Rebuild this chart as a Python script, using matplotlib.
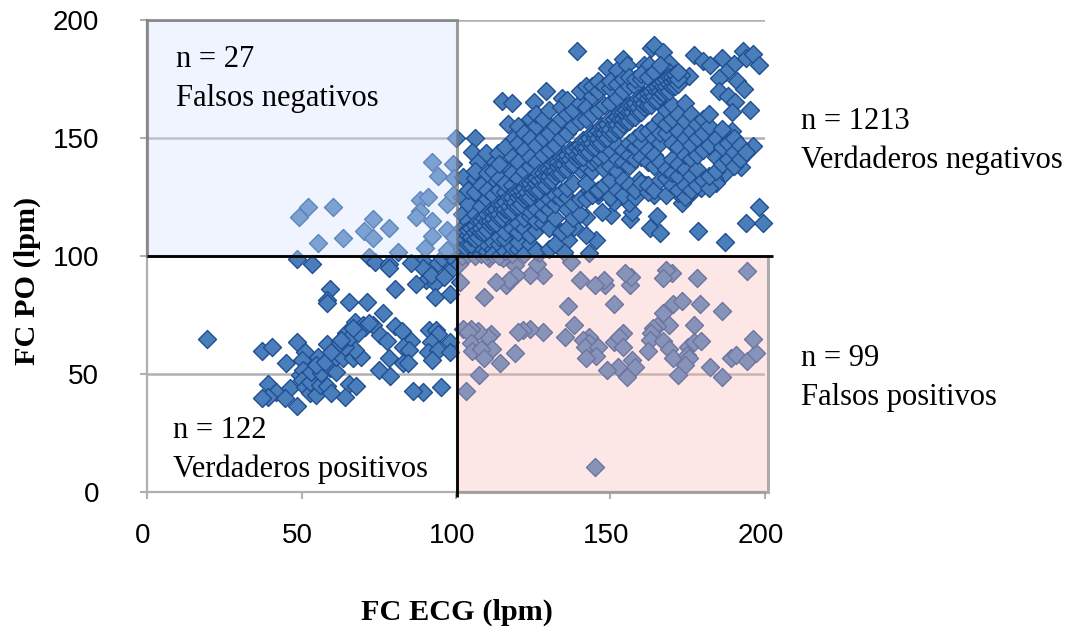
import matplotlib
matplotlib.use("Agg")
import matplotlib.pyplot as plt
from matplotlib.patches import Rectangle
from matplotlib.transforms import ScaledTranslation

x_ticks = [0, 50, 100, 150, 200]
y_ticks = [0, 50, 100, 150, 200]
x_title = "FC ECG (lpm)"
y_title = "FC PO (lpm)"

false_positive = [
(194.1,93.7),(178,90.8),(170,92.9),(168,94),(167,90.6),(156.2,87.7),(156.6,91.2),(154.8,92.6),(148.2,87.8),(148,89.8),
(145,87.8),(140.1,89.8),(137.1,97.3),(128.2,91.8),(124,91.8),(126.2,96.6),(119.1,96.1),(119.3,92),(116.2,87.8),(117.1,90),
(113,88.8),(109.2,82.7),(101.3,88.8),(101.1,96.6),(115.1,99),(110.8,99),(136.1,78.8),(151.1,79.8),(170.1,79.8),(173.2,80.9),
(179.1,79.6),(186.1,76.7),(167,75.7),(169,70.7),(177.1,70.7),(165.2,70.3),(163.8,69.3),(163.1,67.2),(162.8,64.4),(167,64),
(162.1,59.6),(169,60.4),(170.1,56.6),(175.1,61.5),(177.1,63.7),(179.4,64),(174.9,58),(175.4,56.6),(174.2,53.8),(172,49.5),
(182.1,52.8),(186.1,48.8),(189,56.6),(190.5,58),(194.1,55.6),(197.1,58.7),(196,64.8),(154.1,67.2),(151,63.7),(152.8,65.5),
(154.1,61.5),(138.2,70.7),(135.2,65.6),(143.1,65.8),(141,64.4),(143.1,63.2),(141.8,61.5),(146.1,61.3),(145.3,57.6),(142.1,56.6),
(157.1,55.9),(158,53.1),(152.3,53.1),(149,51.7),(155.2,48.8),(128.2,67.6),(124,69),(121.8,68.6),(120.2,67.6),(111.4,66.9),
(110.3,65.8),(107.1,68.2),(104.9,69),(102.2,69),(103.8,67.9),(111.7,60.8),(104.9,63),(105.2,59.7),(108.1,60.4),(109.2,56.9),
(114.3,54.8),(119.1,58.7),(107.3,49.7),(103.3,42.8),(145.1,10.6),
]

false_negative = [
(92.3,139.8),(99,139),(94.1,133.9),(88.2,123.7),(91.1,124.9),(88.2,119.1),(87.1,116.4),(97,121.9),(99,125.9),(92.3,115),
(97,111),(92.3,108.5),(90.1,103.3),(97,102.6),(99.5,108.2),(99.5,132.9),(52.1,120.6),(49.2,116.7),(60.2,120.6),(55.2,105.7),
(63.3,107.8),(73.2,115.8),(70.1,110.7),(73.2,107.8),(78.3,111.7),(81.2,101.9),(100,149.9),
]

true_positive = [
(48.4,98.7),(53.3,96.5),(72,99.7),(73.7,97.6),(78.3,96.5),(78.3,94.8),(89.3,98),(89.3,94.8),(94.1,96.9),(97,97.6),
(98.4,94),(90.4,89.8),(86.9,88.1),(93.3,88.7),(80.2,85.9),(93.1,82.5),(98.1,83.8),(59.3,85.9),(58.4,81.4),(58.4,80.2),
(65.3,80.7),(71.3,80.7),(76.3,75.7),(19.4,64.7),(37.3,59.6),(40.3,61.6),(45.1,54.8),(48.4,63.7),(51.1,59.5),(50,55.9),
(55.4,57.4),(58.1,62.7),(62.4,64.1),(64.5,67.2),(67.2,71.9),(69.9,70.8),(73.1,70.8),(75.3,66.5),(77.7,64.1),(80.1,70.5),
(82.6,68.2),(85.5,64),(82.8,61.6),(84.8,60.2),(78.3,56.6),(75.1,51.7),(78.5,49.3),(82.8,54.5),(84.4,54.5),(91.2,68.6),
(93.4,68.6),(94.1,67),(92,63.7),(98.1,63.7),(90.9,59.5),(94.1,60.2),(98.1,59.5),(92.3,55.9),(95.2,44.6),(89.3,42.5),
(86.1,42.8),(39.2,45.6),(41.9,42.5),(46.2,43.9),(39.2,40.4),(37.1,39.7),(44.6,39.7),(48.4,36.6),(65.4,45.8),(67.5,45.1),
(64.2,40.4),(49.4,49.6),(50.5,51.7),(50,47.5),(51.1,44.6),(52.7,41.8),(54.8,41.1),(52.7,46.8),(55.9,45.3),(58.1,44.9),
(59.7,41.8),(53.2,51),(56.4,50.3),(59.1,52.4),(61.3,51),(54.8,53.8),(57.5,55.2),(61.3,57.4),(63.4,56.6),(66.7,56.6),
(69.4,57.4),(67.2,60.2),(64,61.6),(59.7,59.5),(62.4,63),(65.6,65.8),(70.4,70.1),(72,71.5),(68.3,67.2),(66.7,69.4),
(62.9,64.4),(95.5,99),(92,92),(96,91),(99,99),(85.5,97),
]

true_negative_outer = [
(139.2,186.9),(163.2,188.3),(164.2,189.4),(167.1,186.3),(177.1,185.2),(179.8,182.8),(182.2,180.9),(186.2,184),(190,181.2),(192.9,187),
(193.8,183.8),(196.2,185.6),(198.1,180.9),(187.3,178.1),(185,175.3),(190.9,174.3),(193.2,170.8),(185,169.9),(187.9,167.8),(190.3,165.4),
(189.3,160.9),(195.2,161.9),(189.3,153.1),(188.1,149.4),(196.2,146.8),(193.2,142.8),(192.2,137.9),(187.1,135),(183.5,132.9),(184.1,130.8),
(198.1,120.9),(194,113.8),(199.2,113.8),(187.1,105.8),(178.2,110.7),(165.2,117),(162.8,111.7),(166.1,109.6),(173.1,122.6),(176,126.6),
(179.2,128.7),(172,126.6),(149,179.8),(152,178.8),(153.9,183.3),(155.2,180.9),(160.9,180.9),(162.3,180.9),(169,181.6),(169,178.1),
(175.5,176.3),(172.8,176.7),(129.2,169.9),(115,165.8),(118.2,164.7),(125.2,165.1),(134.2,166.8),(116.8,155.9),(118.9,149.9),(106.2,149.9),
(105.2,143.9),(107.1,140),(111.9,140.7),(109.8,143.5),(113.5,143.5),(102.2,133.6),(106.3,132.9),(111.9,132.9),(116.8,137.9),(105.2,125.4),
(104.4,120.2),(145.9,125.8),(143.2,128),(142.1,116.7),(138.3,112.4),(150.2,117.4),(147.2,118.8),(151.2,123),(156.3,115.7),(157,118.8),
(156.1,122.3),(164.2,125.8),(158.2,127.3),(161.5,130.1),(159.3,132.2),(145.3,106.8),(142.1,108.9),(136.2,106.8),(133.3,110.3),(143.2,101.1),
(135.1,101.8),(127,101.1),
]

below_ridge = [
(102,[100,103]),(104,[101]),(106,[103,100]),(108,[101,104]),(110,[100,102,105]),(112,[103,106,101]),(114,[100,105,108]),
(116,[102,107,110]),(118,[101,104,112]),(120,[103,106,110,114]),(122,[101,112,116]),(124,[105,109,117,119]),(126,[102,111,115,120]),
(128,[114,118,122]),(130,[103,112,120,124]),(132,[105,116,122,126]),(134,[110,124,127]),(136,[112,120,125,129]),(138,[116,122,131]),
(140,[118,124,137]),(142,[124,131,138]),(144,[126,136,140]),(146,[127,128,140,142]),(148,[130,137,143]),(150,[125,132,138,145]),
(152,[128,136,141,147]),(154,[126,132,140,145]),(156,[130,138,143,148]),(158,[125,128,141,146,150]),(160,[131,142,148,152]),
(162,[127,130,140,145,153]),(164,[128,138,143,150,155]),(166,[132,140,148,152,158]),(168,[126,133,137,152,156,162]),
(170,[130,135,141,148,158,164]),(172,[128,134,139,146,153,160]),(174,[125,130,137,143,150,157,165]),(176,[128,134,141,147,153,160]),
(178,[130,137,143,150,156]),(180,[132,145,152,158]),(182,[129,134,147,155,160]),(184,[136,142,150]),(186,[139,146,154]),
(188,[141,148]),(190,[138,144,150]),(192,[141,147]),(194,[144]),
]

above_ridge = [
(102,[112,118,125]),(104,[115,122,128]),(106,[118,127,136]),(108,[121,130]),(110,[124,128,135]),(112,[126,136]),(114,[128,133,139]),
(116,[127,131,146]),(118,[130,135,142]),(120,[133,140,148,155]),(122,[136,145,152]),(124,[138,142,150,158]),(126,[140,147,155,160]),
(128,[143,150,158]),(130,[145,152,162]),(132,[147,155]),(134,[150,158,163]),(136,[152,160,166]),(138,[155,162]),(140,[157,165,170]),
(142,[158,163,172]),(144,[160,168,172]),(146,[162,170,174]),(148,[164,172]),(150,[165,171,174]),(152,[167,173]),(154,[170,175]),
(156,[172,176]),(158,[172,175]),(160,[175,177]),(162,[176]),(164,[178]),(166,[181]),
]

ridge = [
(103,[104,107,110]),(104,[105,109,111]),(105,[105,108,112]),(106,[107,110,113]),(107,[108,111,115]),(108,[110,112,115]),(109,[110,113,116]),
(110,[111,115,118]),(111,[113,115,119]),(112,[114,116,119]),(113,[114,118,120]),(114,[116,118,122]),(115,[116,120,122]),(116,[118,120,123]),
(117,[119,121,125]),(118,[119,123,125]),(119,[121,123,127]),(120,[121,125,127]),(121,[122,126,128]),(122,[124,126,129]),(123,[125,127,131]),
(124,[125,129,131]),(125,[127,129,132]),(126,[128,131,133]),(127,[128,132,135]),(128,[130,133,135]),(129,[130,134,137]),(130,[132,134,137]),
(131,[132,136,139]),(132,[134,136,140]),(133,[135,138,140]),(134,[135,139,142]),(135,[137,139,142]),(136,[137,141,143]),(137,[139,141,145]),
(138,[139,143,145]),(139,[141,143,146]),(140,[142,145,147]),(141,[142,146,149]),(142,[144,146,149]),(143,[144,148,150]),(144,[146,148,152]),
(145,[146,150,152]),(146,[148,150,153]),(147,[148,152,155]),(148,[150,152,155]),(149,[150,154,156]),(150,[152,154,158]),(151,[152,156,158]),
(152,[154,156,159]),(153,[154,158,161]),(154,[156,158,161]),(155,[157,160,162]),(156,[157,161,164]),(157,[159,161,164]),(158,[159,163,165]),
(159,[161,163,167]),(160,[161,165,167]),(161,[163,165,168]),(162,[164,167,169]),(163,[164,168,170]),(164,[166,168,171]),(165,[166,170,172]),
(166,[168,170,173]),(167,[169,172,174]),(168,[170,172,175]),(169,[170,173,176]),(170,[172,174,176]),(171,[172,175,177]),(172,[173,175,178]),
]

xs, ys = [], []
for group in (true_positive, false_negative, false_positive, true_negative_outer):
    xs += [p[0] for p in group]
    ys += [p[1] for p in group]
for columns in (below_ridge, above_ridge, ridge):
    for cx, col in columns:
        xs += [cx] * len(col)
        ys += col

plt.rcParams["font.family"] = ["Liberation Sans", "DejaVu Sans"]
W, H = 1073, 630
fig = plt.figure(figsize=(W / 100, H / 100), dpi=100, facecolor="white")
ax = fig.add_axes([147 / W, (H - 492) / H, 618 / W, 472 / H])
ax.set_xlim(0, 200)
ax.set_ylim(0, 200)
ax.set_xticks(x_ticks)
ax.set_yticks(y_ticks)
ax.grid(axis="y", color="#b0b0b0", lw=1.8, zorder=1)
for s in ("top", "right"):
    ax.spines[s].set_visible(False)
for s in ("left", "bottom"):
    ax.spines[s].set_color("#b0b0b0")
    ax.spines[s].set_linewidth(1.6)
ax.tick_params(length=5, width=1.5, color="#b0b0b0", labelsize=20, labelcolor="black")
ax.tick_params(axis="x", pad=17)
ax.tick_params(axis="y", pad=29.5)
shift = ScaledTranslation(-3 / 72, 0, fig.dpi_scale_trans)
for lab in ax.get_xticklabels():
    lab.set_transform(lab.get_transform() + shift)

ax.scatter(xs, ys, marker="D", s=84, c="#4a7ebb", edgecolors="#1f4e92", linewidths=1.0, zorder=3, clip_on=False)

ax.add_patch(Rectangle((0, 100), 100.4, 100, facecolor=(0.83, 0.89, 1.0, 0.36), edgecolor=(0.45, 0.45, 0.45, 0.7), lw=2.2, zorder=4, clip_on=False))
ax.add_patch(Rectangle((100.4, 0), 100.7, 100, facecolor=(0.99, 0.74, 0.72, 0.35), edgecolor=(0.6, 0.6, 0.6, 0.8), lw=2.2, zorder=4, clip_on=False))
ax.plot([0, 202.5], [100, 100], color="black", lw=2, zorder=5, clip_on=False, solid_capstyle="butt")
ax.plot([100.4, 100.4], [-2, 100], color="black", lw=2, zorder=5, clip_on=False, solid_capstyle="butt")

fig.text(457 / W, 1 - 612 / H, x_title, fontsize=21.8, fontweight="bold", family="Liberation Serif", ha="center", va="center")
fig.text(27 / W, 1 - 281 / H, y_title, fontsize=21.8, fontweight="bold", family="Liberation Serif", ha="center", va="center", rotation=90)

labels = [
    (176, 67, "n = 27"), (176, 106, "Falsos negativos"),
    (173, 438, "n = 122"), (173, 477, "Verdaderos positivos"),
    (801, 129, "n = 1213"), (801, 168, "Verdaderos negativos"),
    (801, 366, "n = 99"), (801, 405, "Falsos positivos"),
]
for px, py, t in labels:
    fig.text(px / W, 1 - py / H, t, fontsize=22, family="Liberation Serif", ha="left", va="baseline", zorder=10)

fig.savefig("out.png", dpi=100)
